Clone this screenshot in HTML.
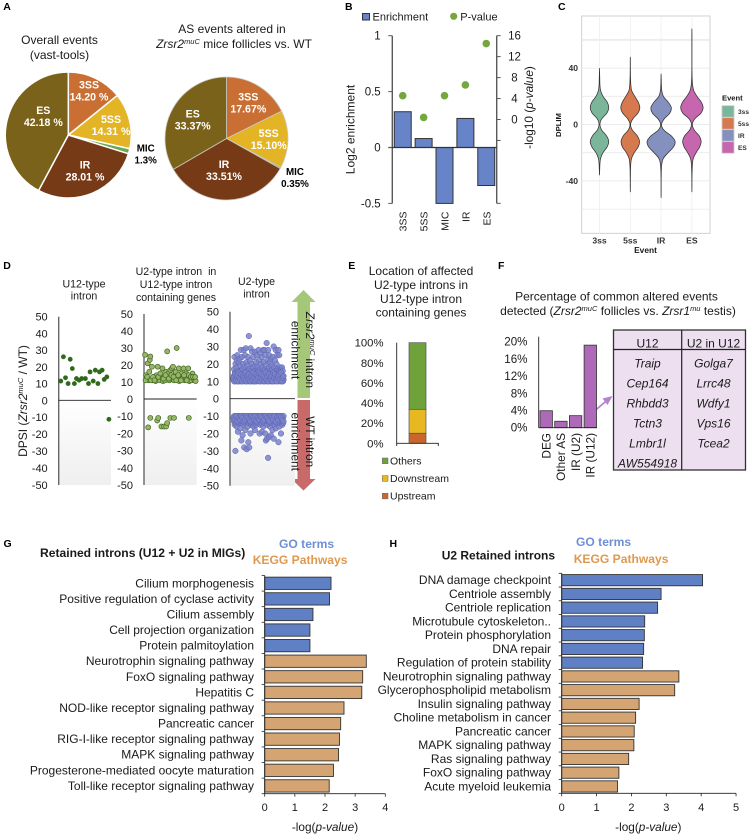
<!DOCTYPE html>
<html lang="en">
<head>
<meta charset="utf-8">
<title>Zrsr2 splicing figure</title>
<style>
html,body{margin:0;padding:0;background:#fff;width:750px;height:835px;overflow:hidden}
svg{display:block;font-family:"Liberation Sans",sans-serif}
text{fill:#1a1a1a}
.pl{font-weight:bold;font-size:10.5px;fill:#000}
</style>
</head>
<body>
<svg xmlns="http://www.w3.org/2000/svg" width="750" height="835" viewBox="0 0 750 835">
<defs>
<linearGradient id="fade" x1="0" y1="0" x2="0" y2="1"><stop offset="0" stop-color="#fff"/><stop offset="1" stop-color="#efefef"/></linearGradient>
</defs>
<rect width="750" height="835" fill="#fff"/>

<g id="panelA">
<text class="pl" x="3.3" y="10">A</text>
<text x="59.5" y="44" font-size="12" text-anchor="middle">Overall events</text>
<text x="59.5" y="59" font-size="12" text-anchor="middle">(vast-tools)</text>
<text x="232" y="33" font-size="12" text-anchor="middle">AS events altered in</text>
<text x="234" y="48" font-size="12" text-anchor="middle"><tspan font-style="italic">Zrsr2</tspan><tspan font-style="italic" font-size="7.5" dy="-4">muC</tspan><tspan dy="4"> mice follicles vs. WT</tspan></text>
</g>

<g id="panelB">
<text class="pl" x="345" y="10">B</text>
<rect x="362.5" y="13.5" width="7" height="6.5" fill="#6684c7" stroke="#333" stroke-width="1"/>
<text x="372.5" y="20.5" font-size="11">Enrichment</text>
<circle cx="453.7" cy="16.3" r="3.6" fill="#76a73f"/>
<text x="460.3" y="20.5" font-size="11">P-value</text>
<text transform="translate(354.5,129.5) rotate(-90)" font-size="12" text-anchor="middle">Log2 enrichment</text>
<text transform="translate(533,107.5) rotate(-90)" font-size="11.8" text-anchor="middle">-log10 (<tspan font-style="italic">p-value</tspan>)</text>
</g>

<g id="panelC">
<text class="pl" x="558" y="10">C</text>
<text transform="translate(561,125) rotate(-90)" font-size="7.7" font-weight="bold" text-anchor="middle">DPLIM</text>
<text x="645.5" y="253" font-size="8.4" font-weight="bold" fill="#222" text-anchor="middle">Event</text>
<text x="722" y="100.5" font-size="7.6" font-weight="bold">Event</text>
</g>

<g id="panelD">
<text class="pl" x="3.3" y="269">D</text>
<text x="84" y="287.5" font-size="10.6" text-anchor="middle">U12-type</text>
<text x="84" y="299.5" font-size="10.6" text-anchor="middle">intron</text>
<text x="176" y="275" font-size="10.6" text-anchor="middle">U2-type intron&#160; in</text>
<text x="176" y="288" font-size="10.6" text-anchor="middle">U12-type intron</text>
<text x="176" y="301" font-size="10.6" text-anchor="middle">containing genes</text>
<text x="256.5" y="285" font-size="10.6" text-anchor="middle">U2-type</text>
<text x="256.5" y="297.5" font-size="10.6" text-anchor="middle">intron</text>
<text transform="translate(27,401) rotate(-90)" font-size="12" text-anchor="middle">DPSI (<tspan font-style="italic">Zrsr2</tspan><tspan font-style="italic" font-size="7.5" dy="-4">muC</tspan><tspan dy="4"> / WT)</tspan></text>
<polygon points="303.5,290 315.5,302 310,302 310,398 297.5,398 297.5,302 291.5,302" fill="#a5c878"/>
<polygon points="297.5,400 310,400 310,479 315.5,479 303.5,490.5 291.5,479 297.5,479" fill="#c96a6a"/>
</g>

<g id="panelE">
<text class="pl" x="348.3" y="269">E</text>
<text x="421" y="275" font-size="12" text-anchor="middle">Location of affected</text>
<text x="421" y="289" font-size="12" text-anchor="middle">U2-type introns in</text>
<text x="421" y="303" font-size="12" text-anchor="middle">U12-type intron</text>
<text x="421" y="316.5" font-size="12" text-anchor="middle">containing genes</text>
</g>

<g id="panelF">
<text class="pl" x="498" y="269">F</text>
<text x="616.5" y="300.5" font-size="12" text-anchor="middle">Percentage of common altered events</text>
<text x="618" y="315" font-size="12" text-anchor="middle">detected (<tspan font-style="italic">Zrsr2</tspan><tspan font-style="italic" font-size="7.5" dy="-4">muC</tspan><tspan dy="4"> follicles vs. </tspan><tspan font-style="italic">Zrsr1</tspan><tspan font-style="italic" font-size="7.5" dy="-4">mu</tspan><tspan dy="4"> testis)</tspan></text>
<line x1="595.7" y1="410" x2="608" y2="399.5" stroke="#b77fd0" stroke-width="1.8"/>
<polygon points="612.5,396 602.5,398.5 607.5,405" fill="#b77fd0"/>
<g>
<rect x="613.5" y="330" width="132" height="140" fill="#eddff0" stroke="#333" stroke-width="1.3"/>
<line x1="681.7" y1="330" x2="681.7" y2="470" stroke="#222" stroke-width="1.2"/>
<line x1="613.5" y1="349.5" x2="745.5" y2="349.5" stroke="#222" stroke-width="1.2"/>
<text x="647.5" y="347.5" font-size="12" text-anchor="middle">U12</text>
<text x="713.5" y="347.5" font-size="12" text-anchor="middle">U2 in U12</text>
<g font-size="12" font-style="italic" text-anchor="middle">
<text x="647.5" y="367.5">Traip</text>
<text x="647.5" y="387.5">Cep164</text>
<text x="647.5" y="407.5">Rhbdd3</text>
<text x="647.5" y="427.5">Tctn3</text>
<text x="647.5" y="447.5">Lmbr1l</text>
<text x="647.5" y="467.5">AW554918</text>
<text x="713.5" y="367.5">Golga7</text>
<text x="713.5" y="387.5">Lrrc48</text>
<text x="713.5" y="407.5">Wdfy1</text>
<text x="713.5" y="427.5">Vps16</text>
<text x="713.5" y="447.5">Tcea2</text>
</g>
</g>
</g>

<g id="panelG">
<text class="pl" x="3.5" y="547">G</text>
<text x="40" y="557" font-size="12.1" font-weight="bold" fill="#000">Retained introns (U12 + U2 in MIGs)</text>
<text x="279" y="548" font-size="12.1" font-weight="bold" style="fill:#6f8fd5">GO terms</text>
<text x="252.7" y="564" font-size="12.1" font-weight="bold" style="fill:#e0994e">KEGG Pathways</text>
<text x="325" y="831" font-size="11.8" text-anchor="middle">-log(<tspan font-style="italic">p-value</tspan>)</text>
</g>

<g id="panelH">
<text class="pl" x="389.5" y="547">H</text>
<text x="441.7" y="559.5" font-size="12" font-weight="bold" fill="#000">U2 Retained introns</text>
<text x="576" y="546" font-size="12.1" font-weight="bold" style="fill:#6f8fd5">GO terms</text>
<text x="573.7" y="563" font-size="12.1" font-weight="bold" style="fill:#e0994e">KEGG Pathways</text>
<text x="648.3" y="831" font-size="11.8" text-anchor="middle">-log(<tspan font-style="italic">p-value</tspan>)</text>
</g>
</svg>

<script>
/* ---------- A: pie charts ---------- */
const pieCategories = ['3SS', '5SS', 'MIC', 'IR', 'ES'];
const pieOverallValues = [14.20, 14.31, 1.3, 28.01, 42.18];
const pieAlteredValues = [17.67, 15.10, 0.35, 33.51, 33.37];
const pieOverallPrinted = ['14.20 %', '14.31 %', '1.3%', '28.01 %', '42.18 %'];
const pieAlteredPrinted = ['17.67%', '15.10%', '0.35%', '33.51%', '33.37%'];

/* ---------- B: enrichment ---------- */
const enrichCategories = ['3SS', '5SS', 'MIC', 'IR', 'ES'];
const enrichValues = [0.32, 0.08, -0.5, 0.26, -0.34];
const enrichPValues = [4.55, 0.4, 4.55, 6.6, 14.5];
const enrichLeftTicks = [1, 0.5, 0, -0.5];
const enrichRightLabels = [16, 12, 8, 4, 0];
const enrichRightMarks = [16, 12, 8, 4, 0, -4, -16];

/* ---------- C: violins ---------- */
const violinEvents = ['3ss', '5ss', 'IR', 'ES'];
const violinTicks = [40, 0, -40];
const violinMinorTicks = [60, 20, -20, -60];
const violinLevels = [-52,-48,-44,-40,-36,-32,-28,-24,-20,-16,-12,-8,-4,0,4,8,12,16,20,24,28,32,36,40,44,48,52,56,60,64,68];
const violin3ss = [0,0,0,0,0,.015,.03,.08,.25,.54,.66,.5,.16,.03,.16,.52,.66,.54,.25,.08,.03,.02,.01,0,0,0,0,0,0,0,0];
const violin5ss = [0,0,.005,.005,.01,.015,.035,.09,.28,.56,.66,.5,.15,.02,.18,.54,.68,.56,.32,.1,.04,.02,.01,.005,.005,0,0,0,0,0,0];
const violinIR = [0,.005,.005,.005,.01,.02,.05,.16,.5,.88,1,.72,.2,.03,.22,.62,.73,.5,.16,.05,.02,.01,0,0,0,0,0,0,0,0,0];
const violinES = [0,0,.005,.005,.01,.02,.04,.1,.3,.55,.66,.52,.17,.03,.2,.64,.8,.66,.36,.13,.05,.02,.01,.005,.005,.005,.005,.005,.005,.005,0];

/* ---------- D: scatter strips ---------- */
const dpsiTicks = [50,40,30,20,10,0,-10,-20,-30,-40,-50];
const u12X = [4,9,13,18,22,26,30,34,39,44,51,57,60,66,70,75,78,83,87,92,96];
const u12Y = [11.5,26,13.5,10,24.5,19,10,13,12,13,13,10,17,11.5,18,10,17,18,12.5,14,-11.2];
const u2MigX = [2,4,5,7,9,11,12,10,15,16,19,22,24,26,28,30,33,35,36,38,40,42,44,46,48,50,51,53,55,57,58,60,62,64,66,67,69,71,73,75,77,78,80,82,84,86,88,90,92,94,96,98,3,6,13,17,20,27,31,37,41,47,52,56,61,65,70,76,81,85,89,93,97,8,12,25,27,33,38,42,44,50,57,85];
const u2MigY = [26,14,12,21,11,23,25,16,19,11,13,10.5,14,19,12,11,13,18,10.5,13,11,16,28,15,11,17,12,18,19,11,13,16,30,12,18,10.5,14,15,12,18,11,13,15,12,18,10.5,13,11,15,12,11,10.5,11,13,11,13,11,13,15,12,14,12,14,13,11,14,11,14,11,14,13,13,13,-16.5,-11,-12.5,-11,-16,-16,-16,-14,-11,-11,-11];
const u2UpY = [
11,13,17,10,24,12,15,11,20,14,10,12,18,22,11,25,13,16,10,14,
21,12,10,15,11,23,13,19,10,28,12,16,11,14,24,10,17,12,20,13,
11,28,14,10,18,12,25,11,15,29,10,13,21,11,16,12,19,10,24,14,
12,36,11,17,10,22,14,11,29,13,16,10,20,12,27,11,15,18,10,13,
24,12,10,16,11,19,27,13,10,15,21,11,14,25,10,12,18,11,16,13,
28,11,22,14,10,17,12,26,11,15,20,13,10,24,12,18,11,16,28,14,
10,21,13,28,11,17,12,25,10,15,19,11,32,13,16,10,22,12,28,14,
11,18,25,10,13,21,12,16,11,23,14,10,19,12,17,11,24,13,15,10,
30,12,18,11,14,22,10,16,28,13,11,20,15,12,25,10,17,11,13,28,
14,11,25,16,10,18,12,15,11,17,13,10,14,18,11,12,16,10,13,11];
const u2UpDenseY = [
12,10,14,11,13,10,15,12,11,14,10,13,12,11,15,10,13,11,14,12,
10,13,11,15,12,10,14,11,13,12,15,10,12,14,11,13,10,12,15,11,
13,10,14,12,11,13,10,15,12,14,11,10,13,12,14,11,15,10,12,13];
const u2DownY = [
-11,-13,-10,-12,-15,-11,-30,-14,-10,-12,-16,-11,-13,-10,-19,-12,-11,-14,-10,-13,
-12,-10,-17,-11,-14,-24,-10,-13,-12,-21,-11,-10,-15,-12,-28,-11,-14,-10,-18,-12,
-10,-13,-29,-11,-12,-16,-10,-25,-14,-11,-28,-10,-13,-12,-20,-11,-15,-10,-12,-14,
-11,-10,-13,-12,-16,-11,-10,-14,-18,-12,-10,-13,-11,-15,-10,-12,-11,-14,-10,-13,
-12,-11,-10,-20,-13,-11,-15,-10,-12,-14,-11,-19,-10,-13,-12,-16,-10,-11,-14,-12,
-10,-20,-13,-24,-11,-12,-10,-23,-15,-11,-34,-13,-10,-22,-12,-11,-16,-10,-14,-21,
-11,-12,-10,-14,-18,-11,-13,-10,-23,-12,-11,-15,-10,-13,-12,-17,-11,-10,-14,-12,
-10,-13,-11,-25,-12,-10,-16,-11,-14,-10,-12,-20,-11,-13,-10,-15,-12,-11,-14,-10];
const u2DownDenseY = [
-11,-12,-10,-13,-11,-12,-10,-11,-13,-12,-10,-11,-12,-13,-10,-11,-12,-10,-13,-11,
-12,-10,-11,-13,-12,-10,-11,-12,-13,-10,-11,-12,-10,-13,-11,-12,-10,-11,-12,-13];

/* ---------- E: stacked location ---------- */
const stackTicks = [100, 80, 60, 40, 20, 0];
const stackNames = ['Upstream', 'Downstream', 'Others'];
const stackValues = [10, 23.8, 66.2];

/* ---------- F: common events ---------- */
const commonCategories = ['DEG', 'Other AS', 'IR (U2)', 'IR (U12)'];
const commonValues = [3.95, 1.5, 2.8, 19.2];
const commonTicks = [20, 16, 12, 8, 4, 0];

/* ---------- G ---------- */
const gTerms = ['Cilium morphogenesis','Positive regulation of cyclase activity','Cilium assembly','Cell projection organization','Protein palmitoylation','Neurotrophin signaling pathway','FoxO signaling pathway','Hepatitis C','NOD-like receptor signaling pathway','Pancreatic cancer','RIG-I-like receptor signaling pathway','MAPK signaling pathway','Progesterone-mediated oocyte maturation','Toll-like receptor signaling pathway'];
const gValues = [2.2, 2.15, 1.6, 1.5, 1.5, 3.37, 3.25, 3.22, 2.63, 2.52, 2.48, 2.45, 2.28, 2.14];
const gGroups = ['GO','GO','GO','GO','GO','KEGG','KEGG','KEGG','KEGG','KEGG','KEGG','KEGG','KEGG','KEGG'];
const gTicks = [0, 1, 2, 3, 4];

/* ---------- H ---------- */
const hTerms = ['DNA damage checkpoint','Centriole assembly','Centriole replication','Microtubule cytoskeleton..','Protein phosphorylation','DNA repair','Regulation of protein stability','Neurotrophin signaling pathway','Glycerophospholipid metabolism','Insulin signaling pathway','Choline metabolism in cancer','Pancreatic cancer','MAPK signaling pathway','Ras signaling pathway','FoxO signaling pathway','Acute myeloid leukemia'];
const hValues = [4.04, 2.85, 2.75, 2.38, 2.37, 2.35, 2.32, 3.36, 3.24, 2.22, 2.12, 2.08, 2.07, 1.92, 1.64, 1.6];
const hGroups = ['GO','GO','GO','GO','GO','GO','GO','KEGG','KEGG','KEGG','KEGG','KEGG','KEGG','KEGG','KEGG','KEGG'];
const hTicks = [0, 1, 2, 3, 4, 5];

const NS = 'http://www.w3.org/2000/svg';
function mk(tag, attrs, parent) {
  const e = document.createElementNS(NS, tag);
  for (const k in attrs) e.setAttribute(k, attrs[k]);
  parent.appendChild(e);
  return e;
}
function txt(str, x, y, size, anchor, parent, extra) {
  const e = mk('text', Object.assign({x: x, y: y, 'font-size': size, 'text-anchor': anchor}, extra || {}), parent);
  e.textContent = str;
  return e;
}
function slug(s) { return String(s).toLowerCase().replace(/[^a-z0-9]+/g, '-').replace(/^-|-$/g, ''); }

/* ---------- draw A ---------- */
const sliceColors = {'3SS': '#c96f33', '5SS': '#e3b526', 'MIC': '#6aa84f', 'IR': '#763a17', 'ES': '#7a621a'};
const panelA = document.getElementById('panelA');
function drawPie(prefix, cx, cy, r, values, printed, strokeColor, strokeW, labelPlaces) {
  const total = values.reduce((a, b) => a + b, 0);
  let acc = 0;
  values.forEach((v, i) => {
    const a0 = acc / total * 2 * Math.PI;
    acc += v;
    const a1 = acc / total * 2 * Math.PI;
    const big = a1 - a0 > Math.PI ? 1 : 0;
    const d = 'M' + cx + ' ' + cy + 'L' + (cx + r * Math.sin(a0)) + ' ' + (cy - r * Math.cos(a0)) +
      'A' + r + ' ' + r + ' 0 ' + big + ' 1 ' + (cx + r * Math.sin(a1)) + ' ' + (cy - r * Math.cos(a1)) + 'Z';
    const p = mk('path', {d: d, fill: sliceColors[pieCategories[i]], stroke: strokeColor, 'stroke-width': strokeW}, panelA);
    
    
  });
  pieCategories.forEach((c, i) => {
    const place = labelPlaces[c];
    const isMic = c === 'MIC';
    const color = isMic ? '#000' : '#fff';
    const t1 = txt(c, place[0], place[1], isMic ? 9.8 : 10.6, 'middle', panelA, {'font-weight': 'bold', style: 'fill:' + color});
    
    
    const t2 = txt(printed[i], place[0], place[1] + 12, isMic ? 9.8 : 10.6, 'middle', panelA, {'font-weight': 'bold', style: 'fill:' + color});
    
    
  });
}
drawPie('pie-overall', 68.3, 135, 63, pieOverallValues, pieOverallPrinted, '#fff', 1.5,
  {'3SS': [89, 88.5], '5SS': [111, 123], 'MIC': [145.7, 151.5], 'IR': [85, 168.5], 'ES': [43.3, 114]});
drawPie('pie-altered', 226.5, 138.5, 61.5, pieAlteredValues, pieAlteredPrinted, '#c9c9c0', 0.8,
  {'3SS': [248.3, 100.5], '5SS': [268.7, 137], 'MIC': [295, 175], 'IR': [224, 168], 'ES': [192.7, 117.5]});

/* ---------- draw B ---------- */
const panelB = document.getElementById('panelB');
const bLeft = 392.3, bRight = 496.7;
const bY = v => 147.5 + (0 - v) * 111.8;
const bY2 = v => 119.5 - v * 5.24;
const bX = i => bLeft + (i + 0.5) * (bRight - bLeft) / enrichCategories.length;
enrichValues.forEach((v, i) => {
  const y0 = bY(Math.max(v, 0)), y1 = bY(Math.min(v, 0));
  const r = mk('rect', {x: bX(i) - 8.5, y: y0, width: 17, height: y1 - y0, fill: '#6684c7', stroke: '#333', 'stroke-width': 1}, panelB);
  
  
  const t = txt(enrichCategories[i], 0, 0, 10.5, 'end', panelB, {transform: 'translate(' + (bX(i) + 4) + ',211.5) rotate(-90)'});
  
  
});
const bAxisL = mk('line', {x1: bLeft, x2: bLeft, y1: bY(1), y2: bY(-0.5), stroke: '#595959', 'stroke-width': 1.4}, panelB);


const bAxisR = mk('line', {x1: bRight, x2: bRight, y1: bY(1), y2: bY(-0.5), stroke: '#595959', 'stroke-width': 1.4}, panelB);


const bZero = mk('line', {x1: bLeft - 4, x2: bRight, y1: bY(0), y2: bY(0), stroke: '#333', 'stroke-width': 1.2}, panelB);


enrichLeftTicks.forEach(v => {
  const l = mk('line', {x1: bLeft - 4, x2: bLeft, y1: bY(v), y2: bY(v), stroke: '#595959', 'stroke-width': 1}, panelB);
  
  
  const t = txt(v, 380.7, bY(v) + 4, 11.5, 'end', panelB);
  
  
});
enrichRightMarks.forEach(v => {
  const l = mk('line', {x1: bRight, x2: bRight + 4, y1: bY2(v), y2: bY2(v), stroke: '#595959', 'stroke-width': 1}, panelB);
  
  
});
enrichRightLabels.forEach(v => {
  const t = txt(v, 514.5, bY2(v) + 4, 11.5, 'middle', panelB);
  
  
});
enrichPValues.forEach((v, i) => {
  const c = mk('circle', {cx: bX(i), cy: bY2(v), r: 3.8, fill: '#76a73f'}, panelB);
  
  
});

/* ---------- draw C ---------- */
const panelC = document.getElementById('panelC');
const cL = 581.7, cR = 710, cT = 16, cB = 233.3;
const cY = v => 124.5 - v * 1.41;
const cX = i => 599.5 + i * 30.8;
const cFrame = mk('rect', {x: cL, y: cT, width: cR - cL, height: cB - cT, fill: '#fff', stroke: '#ccc', 'stroke-width': 0.9}, panelC);


violinMinorTicks.forEach(v => {
  const l = mk('line', {x1: cL, x2: cR, y1: cY(v), y2: cY(v), stroke: '#eaeaea', 'stroke-width': v === 60 ? 1.6 : 0.8}, panelC);
  
  
});
violinTicks.forEach(v => {
  const l = mk('line', {x1: cL, x2: cR, y1: cY(v), y2: cY(v), stroke: '#e4e4e4', 'stroke-width': 0.8}, panelC);
  
  
  const t = txt(v, 578, cY(v) + 3, 8.6, 'end', panelC, {'font-weight': 'bold', style: 'fill:#333'});
  
  
});
const violinDensities = [violin3ss, violin5ss, violinIR, violinES];
const violinColors = ['#7cb69a', '#d6794f', '#8490be', '#c666ae'];
function smoothPath(pts) {
  let d = 'M' + pts[0][0] + ' ' + pts[0][1];
  for (let i = 0; i < pts.length - 1; i++) {
    const p0 = pts[Math.max(i - 1, 0)], p1 = pts[i], p2 = pts[i + 1], p3 = pts[Math.min(i + 2, pts.length - 1)];
    d += 'C' + (p1[0] + (p2[0] - p0[0]) / 6) + ' ' + (p1[1] + (p2[1] - p0[1]) / 6) + ' ' +
      (p2[0] - (p3[0] - p1[0]) / 6) + ' ' + (p2[1] - (p3[1] - p1[1]) / 6) + ' ' + p2[0] + ' ' + p2[1];
  }
  return d;
}
violinEvents.forEach((ev, i) => {
  const l = mk('line', {x1: cX(i), x2: cX(i), y1: cT, y2: cB, stroke: '#eeeeee', 'stroke-width': 0.8}, panelC);
  
  
});
violinEvents.forEach((ev, i) => {
  const dens = violinDensities[i];
  let first = dens.findIndex(v => v > 0), last = dens.length - 1 - dens.slice().reverse().findIndex(v => v > 0);
  first = Math.max(first - 1, 0);
  last = Math.min(last + 1, dens.length - 1);
  const right = [], left = [];
  for (let k = first; k <= last; k++) {
    right.push([cX(i) + dens[k] * 14, cY(violinLevels[k])]);
    left.unshift([cX(i) - dens[k] * 14, cY(violinLevels[k])]);
  }
  const d = smoothPath(right) + smoothPath(left).replace(/^M[^C]*/, '') + 'Z';
  const v = mk('path', {d: d, fill: violinColors[i], stroke: '#333', 'stroke-width': 0.75}, panelC);
  
  
  const t = txt(ev, cX(i), 243.7, 8.6, 'middle', panelC, {'font-weight': 'bold', style: 'fill:#333'});
  
  
  const key = mk('rect', {x: 722, y: 105.7 + i * 12, width: 12, height: 11.5, fill: violinColors[i], stroke: '#ccc', 'stroke-width': 0.8}, panelC);
  
  
  const kl = txt(ev, 738, 114 + i * 12, 6.6, 'start', panelC, {'font-weight': 'bold', style: 'fill:#333'});
  
  
});

/* ---------- draw D ---------- */
const panelD = document.getElementById('panelD');
function stripAxes(prefix, axisX, rightX, y50, y0, yM50, labelX) {
  const yS = v => v >= 0 ? y0 - v / 50 * (y0 - y50) : y0 + (-v) / 50 * (yM50 - y0);
  const bg = mk('rect', {x: axisX, y: y0, width: rightX - axisX, height: yM50 - y0, fill: 'url(#fade)'}, panelD);
  
  
  const ax = mk('line', {x1: axisX, x2: axisX, y1: y50, y2: yM50, stroke: '#666', 'stroke-width': 1.4}, panelD);
  
  
  const z = mk('line', {x1: axisX, x2: rightX, y1: y0, y2: y0, stroke: '#222', 'stroke-width': 0.9}, panelD);
  
  
  dpsiTicks.forEach(v => {
    const t = txt(v, labelX, yS(v) + 4, 11, 'end', panelD);
    
    
  });
  return yS;
}
const dY1 = stripAxes('u12-strip', 58.7, 111, 316.7, 400.3, 485, 47.7);
const dY2 = stripAxes('u2-in-u12-strip', 144, 196.7, 314, 399, 485, 133);
const dY3 = stripAxes('u2-strip', 230, 295, 311.7, 398.7, 485.7, 219);
const dX1 = v => 58.7 + v * 0.523;
const dX2 = v => 144 + v * 0.527;
const dX3 = f => 233.5 + f * 50;
u12Y.forEach((v, i) => {
  const c = mk('circle', {cx: dX1(u12X[i]), cy: dY1(v), r: 2.4, fill: '#2f6a1a'}, panelD);
  
  
});
u2MigY.forEach((v, i) => {
  const c = mk('circle', {cx: dX2(u2MigX[i]), cy: dY2(v), r: 2.5, fill: '#9ab56a', stroke: '#3f6b1f', 'stroke-width': 0.7}, panelD);
  
  
});
function u2Points(values, name) {
  values.forEach((v, i) => {
    const c = mk('circle', {cx: dX3(i / (values.length - 1)), cy: dY3(v), r: 2.8, fill: '#7a83c9', stroke: '#5a63b5', 'stroke-width': 0.5, 'fill-opacity': 0.85}, panelD);
    
    
  });
}
u2Points(u2UpY, 'u2-up-point');
u2Points(u2UpDenseY, 'u2-up-dense-point');
u2Points(u2DownY, 'u2-down-point');
u2Points(u2DownDenseY, 'u2-down-dense-point');
const arrowTexts = [
  ['arrow-wt-label-line-1', 306, 441.7, 'WT intron'],
  ['arrow-wt-label-line-2', 291.5, 441.7, 'enrichment'],
  ['arrow-zrsr2-label-line-2', 291.5, 350, 'enrichment']
];
arrowTexts.forEach(a => {
  const t = txt(a[3], 0, 0, 11.8, 'middle', panelD, {transform: 'translate(' + a[1] + ',' + a[2] + ') rotate(90)'});
  
  
});
const zrsrLabel = mk('text', {transform: 'translate(306,350) rotate(90)', 'font-size': 11.8, 'text-anchor': 'middle'}, panelD);
zrsrLabel.innerHTML = '<tspan font-style="italic">Zrsr2</tspan><tspan font-style="italic" font-size="7.5" dy="-4">muC</tspan><tspan dy="4"> intron</tspan>';



/* ---------- draw E ---------- */
const panelE = document.getElementById('panelE');
const eY = v => 443.3 - v * 1.006;
const stackColors = ['#c9662e', '#e8b823', '#70a23c'];
let stackAcc = 0;
stackValues.forEach((v, i) => {
  const r = mk('rect', {x: 409, y: eY(stackAcc + v), width: 17, height: eY(stackAcc) - eY(stackAcc + v), fill: stackColors[i], stroke: '#555', 'stroke-width': 0.7}, panelE);
  
  
  stackAcc += v;
  const legendY = 496 - i * 17.6;
  const s = mk('rect', {x: 382.3, y: legendY - 2.8, width: 5.7, height: 5.7, fill: stackColors[i], stroke: '#666', 'stroke-width': 0.5}, panelE);
  
  
  const t = txt(stackNames[i], 390, legendY + 3.5, 10.5, 'start', panelE);
  
  
});
const eAxis = mk('line', {x1: 396.7, x2: 396.7, y1: eY(100), y2: eY(0), stroke: '#222', 'stroke-width': 0.9}, panelE);


const eBase = mk('polyline', {points: '396.7,446 396.7,443.3 438.3,443.3 438.3,446', fill: 'none', stroke: '#222', 'stroke-width': 0.9}, panelE);


stackTicks.forEach(v => {
  const t = txt(v + '%', 383.5, eY(v) + 4, 11.3, 'end', panelE);
  
  
});

/* ---------- draw F ---------- */
const panelF = document.getElementById('panelF');
const fY = v => 427.7 - v * 4.3;
const fX = i => 546.2 + i * 14.7;
commonValues.forEach((v, i) => {
  const r = mk('rect', {x: fX(i) - 6.2, y: fY(v), width: 12.4, height: fY(0) - fY(v), fill: '#ae6ab8', stroke: '#333', 'stroke-width': 0.8}, panelF);
  
  
  const t = txt(commonCategories[i], 0, 0, 11.8, 'end', panelF, {transform: 'translate(' + (fX(i) + 4.2) + ',433) rotate(-90)'});
  
  
});
const fAxis = mk('line', {x1: 538.7, x2: 538.7, y1: 336.7, y2: fY(0), stroke: '#222', 'stroke-width': 0.9}, panelF);


const fBase = mk('line', {x1: 538.7, x2: 597, y1: fY(0), y2: fY(0), stroke: '#222', 'stroke-width': 0.9}, panelF);


commonTicks.forEach(v => {
  const t = txt(v + '%', 527.5, fY(v) + 4, 11.6, 'end', panelF);
  
  
});

/* ---------- draw G & H ---------- */
const groupColors = {GO: '#6080c6', KEGG: '#d5a473'};
function drawBars(prefix, parent, terms, values, groups, ticks, x0, unit, top, bottom, barH, labelX, fontSize) {
  const rowH = (bottom - top) / terms.length;
  const xS = v => x0 + v * unit;
  terms.forEach((term, i) => {
    const yc = top + rowH * (i + 0.5);
    const r = mk('rect', {x: x0, y: yc - barH / 2, width: xS(values[i]) - x0, height: barH, fill: groupColors[groups[i]], stroke: '#333', 'stroke-width': 0.9}, parent);
    
    
    const t = txt(term, labelX, yc + fontSize * 0.33, fontSize, 'end', parent);
    
    
  });
  for (let i = 0; i <= terms.length; i++) {
    const tk = mk('line', {x1: x0 - 3, x2: x0, y1: top + rowH * i, y2: top + rowH * i, stroke: '#222', 'stroke-width': 0.8}, parent);
    
    
  }
  const ya = mk('line', {x1: x0, x2: x0, y1: top, y2: bottom, stroke: '#222', 'stroke-width': 0.9}, parent);
  
  
  const xa = mk('line', {x1: x0, x2: xS(ticks[ticks.length - 1]), y1: bottom, y2: bottom, stroke: '#222', 'stroke-width': 0.9}, parent);
  
  
  ticks.forEach(v => {
    const tk = mk('line', {x1: xS(v), x2: xS(v), y1: bottom, y2: bottom + 3, stroke: '#222', 'stroke-width': 0.8}, parent);
    
    
    const t = txt(v, xS(v), 811, 11, 'middle', parent);
    
    
  });
}
drawBars('go-retained', document.getElementById('panelG'), gTerms, gValues, gGroups, gTicks, 264.7, 30.15, 575.5, 793.7, 12.3, 254, 12);
drawBars('go-u2', document.getElementById('panelH'), hTerms, hValues, hGroups, hTicks, 561.7, 34.87, 573.3, 793.3, 11.2, 551, 12);
</script>
</body>
</html>
